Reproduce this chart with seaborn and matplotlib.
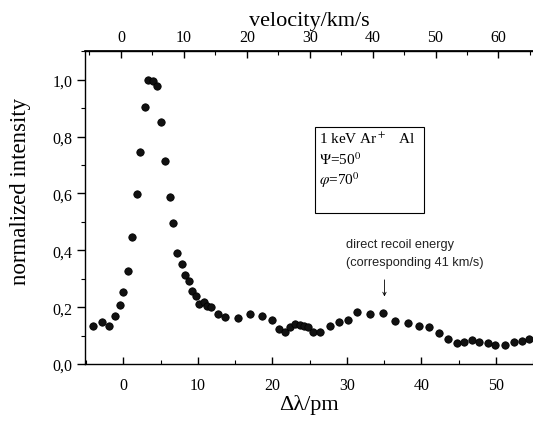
import numpy as np
import pandas as pd
import matplotlib
matplotlib.use("Agg")
import matplotlib.pyplot as plt
from matplotlib.ticker import MultipleLocator, FuncFormatter
import seaborn as sns

# Data
delta_lambda = [-4.05, -2.92, -1.90, -1.14, -0.47, -0.03, 0.56, 1.14, 1.81, 2.25,
                2.84, 3.32, 3.90, 4.49, 5.07, 5.60, 6.19, 6.68, 7.21, 7.84,
                8.20, 8.74, 9.22, 9.76, 10.16, 10.79, 11.23, 11.73, 12.76, 13.61,
                15.44, 17.05, 18.61, 20.00, 20.88, 21.65, 22.41, 23.08, 23.66, 24.20,
                24.77, 25.44, 26.34, 27.68, 28.93, 30.13, 31.34, 33.14, 34.83, 36.49,
                38.18, 39.65, 41.09, 42.33, 43.63, 44.75, 45.78, 46.81, 47.79, 48.90,
                49.93, 51.27, 52.48, 53.51, 54.49]
intensity = [0.133, 0.149, 0.135, 0.170, 0.208, 0.254, 0.326, 0.448, 0.597, 0.747,
             0.904, 1.000, 0.994, 0.977, 0.852, 0.713, 0.586, 0.497, 0.391, 0.352,
             0.313, 0.293, 0.256, 0.240, 0.210, 0.217, 0.205, 0.199, 0.176, 0.166,
             0.161, 0.176, 0.170, 0.156, 0.123, 0.114, 0.129, 0.141, 0.137, 0.135,
             0.129, 0.114, 0.114, 0.133, 0.149, 0.156, 0.182, 0.176, 0.178, 0.152,
             0.144, 0.135, 0.129, 0.109, 0.088, 0.073, 0.076, 0.084, 0.078, 0.073,
             0.068, 0.068, 0.076, 0.080, 0.088]
y_ticks = [0.0, 0.2, 0.4, 0.6, 0.8, 1.0]
x_ticks = [0, 10, 20, 30, 40, 50]
v_ticks = [0, 10, 20, 30, 40, 50, 60]
box_lines = [r"1 keV Ar$^+$   Al", r"$\Psi$=50$^0$", r"$\varphi$=70$^0$"]
note_text = "direct recoil energy\n(corresponding 41 km/s)"

df = pd.DataFrame({"dl": delta_lambda, "I": intensity})

sns.set_theme(style="ticks")
plt.rcParams["font.family"] = ["Liberation Serif", "DejaVu Serif"]
plt.rcParams["mathtext.fontset"] = "stix"

fig = plt.figure(figsize=(5.33, 4.27), dpi=100)
ax = fig.add_axes([0.159, 0.145, 0.841, 0.734])

sns.scatterplot(data=df, x="dl", y="I", ax=ax, s=28, color="#111111",
                edgecolor="black", linewidth=0.6, legend=False, zorder=3)

ax.set_xlim(-5.2, 55)
ax.set_ylim(0, 1.102)
ax.set_xticks(x_ticks)
ax.set_yticks(y_ticks)
ax.xaxis.set_minor_locator(MultipleLocator(5))
ax.yaxis.set_minor_locator(MultipleLocator(0.1))
ax.yaxis.set_major_formatter(FuncFormatter(lambda v, p: f"{v:.1f}".replace(".", ",")))

ax.spines["right"].set_visible(False)
ax.spines["top"].set_visible(True)
for s in ["left", "bottom", "top"]:
    ax.spines[s].set_color("black")
    ax.spines[s].set_linewidth(1.0)

ax.tick_params(axis="x", which="both", direction="in", colors="black", labelsize=11.5, pad=9.5)
ax.tick_params(axis="x", which="major", length=5, width=1)
ax.tick_params(axis="x", which="minor", length=3, width=0.8)
ax.tick_params(axis="y", which="both", direction="out", colors="black", labelsize=11.5)
ax.tick_params(axis="y", which="major", length=6, width=1, pad=3)
ax.tick_params(axis="y", which="minor", length=3, width=0.8)

ax.set_xlabel("Δλ/pm", fontsize=16, color="black")
ax.xaxis.set_label_coords(0.5, -0.095)
ax.set_ylabel("normalized intensity", fontsize=16.5, color="black")
ax.yaxis.set_label_coords(-0.12, 0.555)

# top velocity axis
k = 10 / 8.45
x0 = -0.34
sec = ax.secondary_xaxis("top", functions=(lambda x: (x - x0) * k, lambda v: v / k + x0))
sec.set_xticks(v_ticks)
sec.xaxis.set_minor_locator(MultipleLocator(5))
sec.tick_params(axis="x", which="both", direction="in", colors="black", labelsize=11.5, pad=4)
sec.tick_params(axis="x", which="major", length=5, width=1)
sec.tick_params(axis="x", which="minor", length=3, width=0.8)
sec.set_xlabel("velocity/km/s", fontsize=16, color="black", labelpad=3)
sec.spines["top"].set_color("black")

# info box
ax.add_patch(plt.Rectangle((25.75, 0.530), 14.65, 0.303, fill=False, edgecolor="black",
                           linewidth=0.8, transform=ax.transData, zorder=2))
for i, t in enumerate(box_lines):
    ax.text(26.3, 0.822 - i * 0.069, t, fontsize=11, va="top", ha="left", color="black")

# annotation
ax.text(29.9, 0.445, note_text, fontsize=9.2, family=["Liberation Sans", "DejaVu Sans"],
        va="top", ha="left", color="#222222", linespacing=1.7)
ax.annotate("", xy=(35.05, 0.228), xytext=(35.05, 0.306),
            arrowprops=dict(arrowstyle="->", color="black", lw=0.6, mutation_scale=6))

fig.savefig("out.png", dpi=100)
